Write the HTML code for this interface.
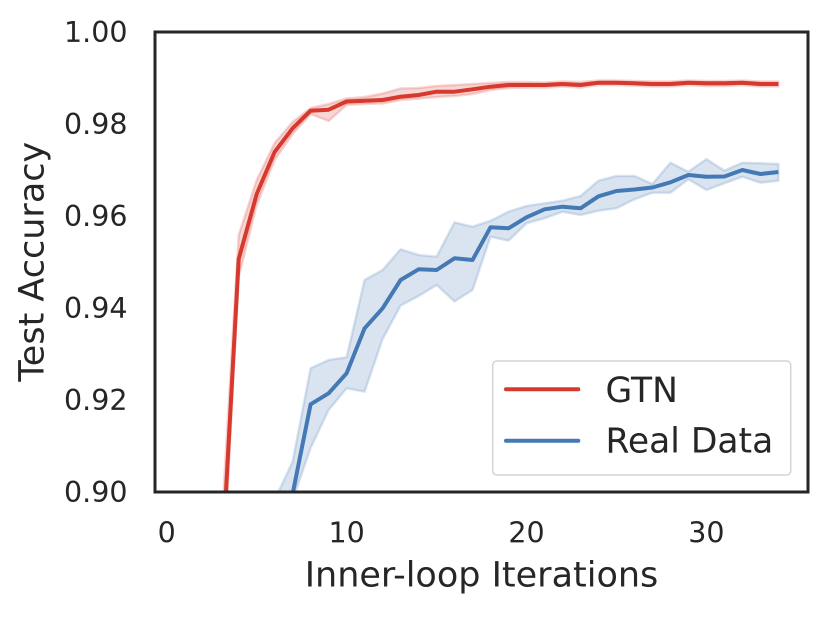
<!DOCTYPE html>
<html>
<head>
<meta charset="utf-8">
<style>
html,body{margin:0;padding:0;background:#fff;width:840px;height:630px;overflow:hidden;}
svg{display:block;overflow:hidden;}
text{font-family:"DejaVu Sans","Liberation Sans",sans-serif;fill:#262626;}
</style>
</head>
<body>
<svg width="840" height="630" viewBox="0 0 840 630" xmlns="http://www.w3.org/2000/svg">
<defs>
<clipPath id="pa"><rect x="155" y="32" width="653" height="460"/></clipPath>
</defs>
<rect x="0" y="0" width="840" height="630" fill="#fff"/>
<g clip-path="url(#pa)">
<!-- red band -->
<polygon fill="#d7392e" fill-opacity="0.2" stroke="#d7392e" stroke-opacity="0.2" stroke-width="2.5" stroke-linejoin="round"
points="220.7,540 238.7,235 256.7,180 274.6,143 292.6,122 310.6,108 328.6,104 346.6,98.5 364.6,97 382.6,93.5 400.6,88.5 418.6,88 436.6,86 454.5,85 472.5,84 490.5,83 508.5,82 526.5,82 544.5,82.5 562.5,81.5 580.5,82 598.5,80.5 616.5,80.5 634.5,81 652.4,81.5 670.4,81.5 688.4,80.5 706.4,81 724.4,81 742.4,80.5 760.4,81.5 778.4,81.5 778.4,86.5 760.4,86.5 742.4,85 724.4,86 706.4,86 688.4,85 670.4,86.5 652.4,86.5 634.5,85.5 616.5,85 598.5,85 580.5,87.5 562.5,86.5 544.5,87.5 526.5,87.5 508.5,88 490.5,90 472.5,94 454.5,96 436.6,97 418.6,98.5 400.6,100 382.6,103.5 364.6,104 346.6,105 328.6,121 310.6,114 292.6,134 274.6,160 256.7,205 238.7,277 220.7,620"/>
<!-- blue band -->
<polygon fill="#4479b5" fill-opacity="0.2" stroke="#4479b5" stroke-opacity="0.2" stroke-width="2.5" stroke-linejoin="round"
points="256.7,620 274.6,500 292.6,461.7 310.6,368.3 328.6,360 346.6,357.3 364.6,280 382.6,270 400.6,249.3 418.6,255 436.6,256.7 454.5,222.3 472.5,226.7 490.5,220.7 508.5,211.7 526.5,206 544.5,203.3 562.5,200.7 580.5,196 598.5,180.7 616.5,176 634.5,176 652.4,184 670.4,162.7 688.4,171.7 706.4,159 724.4,170.7 742.4,162.7 760.4,163.3 778.4,164 778.4,180.7 760.4,182.7 742.4,176.7 724.4,183.3 706.4,190 688.4,179.3 670.4,192.7 652.4,192.7 634.5,199.3 616.5,208.3 598.5,210.7 580.5,215 562.5,211.7 544.5,218.3 526.5,223.3 508.5,240.7 490.5,236.7 472.5,290 454.5,301.5 436.6,285 418.6,296 400.6,305.5 382.6,339 364.6,391.7 346.6,388.3 328.6,410 310.6,448 292.6,500 274.6,600 256.7,620"/>
<!-- red mean -->
<polyline fill="none" stroke="#d7392e" stroke-width="4" stroke-linejoin="round"
points="215,620 220.7,589 238.7,259 256.7,194 274.6,152 292.6,128.3 310.6,110.7 328.6,109.7 346.6,101.5 364.6,100.7 382.6,100 400.6,96.7 418.6,95 436.6,91.7 454.5,91.7 472.5,89.3 490.5,86.7 508.5,85 526.5,85 544.5,85 562.5,84 580.5,85 598.5,82.7 616.5,82.7 634.5,83.3 652.4,84 670.4,84 688.4,82.7 706.4,83.3 724.4,83.3 742.4,82.7 760.4,84 778.4,84"/>
<!-- blue mean -->
<polyline fill="none" stroke="#4479b5" stroke-width="4" stroke-linejoin="round"
points="265,620 274.6,540 292.6,494 310.6,404.3 328.6,393.3 346.6,373.3 364.6,328.3 382.6,308.3 400.6,280 418.6,269.3 436.6,270 454.5,258.3 472.5,260 490.5,227.3 508.5,228.3 526.5,217.3 544.5,209.3 562.5,206.7 580.5,208.3 598.5,196.3 616.5,191 634.5,189.5 652.4,187.5 670.4,182.3 688.4,175 706.4,176.7 724.4,176.5 742.4,170 760.4,174 778.4,172"/>
</g>
<!-- spines -->
<rect x="155" y="32" width="653" height="460" fill="none" stroke="#262626" stroke-width="3"/>
<!-- y tick labels -->
<g font-size="28.5" text-anchor="end">
<text x="127.5" y="42">1.00</text>
<text x="127.5" y="134">0.98</text>
<text x="127.5" y="226">0.96</text>
<text x="127.5" y="318">0.94</text>
<text x="127.5" y="410">0.92</text>
<text x="127.5" y="502">0.90</text>
</g>
<!-- x tick labels -->
<g font-size="28.5" text-anchor="middle">
<text x="166.7" y="542.3">0</text>
<text x="346.6" y="542.3">10</text>
<text x="526.5" y="542.3">20</text>
<text x="706.4" y="542.3">30</text>
</g>
<!-- axis labels -->
<text x="481.5" y="586.7" font-size="35" text-anchor="middle">Inner-loop Iterations</text>
<text transform="translate(43.3,261.7) rotate(-90)" font-size="35" text-anchor="middle">Test Accuracy</text>
<!-- legend -->
<rect x="492.7" y="361" width="298" height="114" rx="4" ry="4" fill="#fff" fill-opacity="0.8" stroke="#d4d4d4" stroke-width="1.5"/>
<line x1="506" y1="389.3" x2="578.3" y2="389.3" stroke="#d7392e" stroke-width="4" stroke-linecap="round"/>
<line x1="506" y1="440.7" x2="578.3" y2="440.7" stroke="#4479b5" stroke-width="4" stroke-linecap="round"/>
<text x="605.5" y="402" font-size="34.5">GTN</text>
<text x="605.5" y="452.5" font-size="34.5">Real Data</text>
</svg>
</body>
</html>
